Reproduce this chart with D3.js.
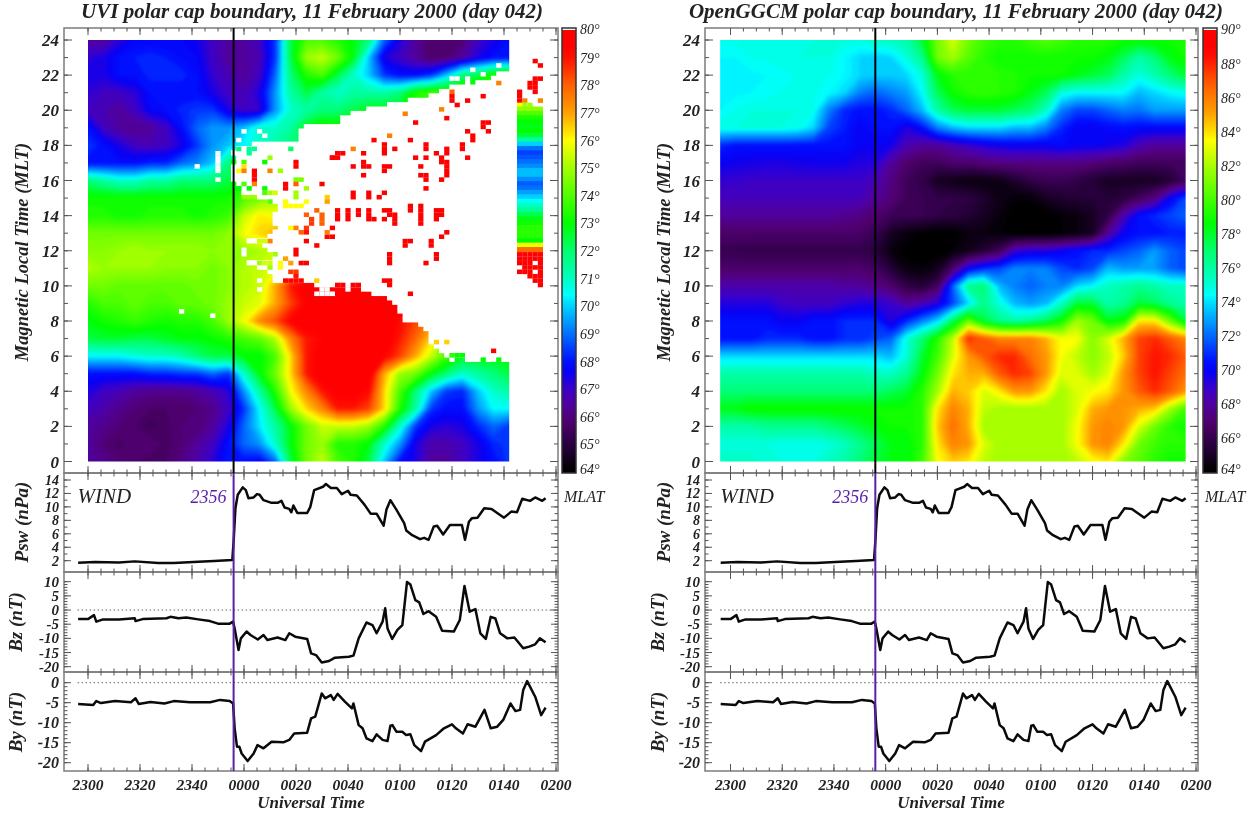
<!DOCTYPE html>
<html><head><meta charset="utf-8">
<script src="https://cdn.jsdelivr.net/npm/d3@7"></script>
<style>html,body{margin:0;padding:0;background:#fff}svg{display:block;filter:blur(0.45px)}
text{font-family:"Liberation Serif",serif;font-style:italic;fill:#222}</style></head><body>
<svg id="c" width="1256" height="814"></svg>
<script>
// ---- data ----
const mltRows = [24,23,22,21,20,19,18,17,16,15,14,13,12,11,10,9,8,7,6,5,4,3,2,1,0];
// UVI latitude field, minutes after 2300 every 6 min (0..162), top row = 24 MLT
const uviGrid = [
[66.5,66.5,67.3,67.8,67.8,67.8,67.8,67.6,67,66.5,66.5,67,68.5,72.5,74,74,73.5,73,72,69,67.5,66.5,65.8,65.8,66,67,67.5,68],
[67.3,67.5,68,68.2,68.4,68.2,68,67.8,67,66.5,66.5,66.8,68.5,72.5,75,75.5,74.5,73,70,67.5,67,66.5,65.8,66,66.5,67.5,68,68],
[67.5,67.5,68,68,68.3,68.3,68.3,68,67.2,66.8,66.5,67,69,72,73.5,74,72.5,71,70,68.5,68,68,68.5,70,72,72.5,73.5,74],
[67.3,67,67,67.3,68,68,68,68,67.5,67,66.8,67.5,69.5,71.5,72.5,71.5,71,71.5,71.5,71.5,72,73.5,74,74,74,74,74,74],
[67,66.8,66.5,67,67.8,68,68.3,68.5,68.5,67.5,67,67.2,69.5,71,71.5,72,72,72.5,73,73,73,73,73,73,73,73,73,73],
[68,67,66.5,66.3,66.5,67,68,69,69.5,69.5,70,71,71,71.5,73,73.5,73.5,73.5,73.5,73.5,73.5,73.5,73.5,73.5,73.5,73.5,73.5,73.5],
[68.5,68,67.5,67,66.8,67,67.5,68.5,69.5,70,70.5,71,71.5,72,72,72,72,72,72,72,72,72,72,72,72,72,72,72],
[68,68,68,68,68.3,68.3,69,69.3,70,72,72.5,72.5,72.5,72.5,72.5,72.5,72.5,72.5,72.5,72.5,72.5,72.5,72.5,72.5,72.5,72.5,72.5,72.5],
[72,71.5,71,71,71.5,71.5,72,72,72,72.5,73,73,73.5,73.5,73.5,73.5,73.5,73.5,73.5,73.5,73.5,73.5,73.5,73.5,73.5,73.5,73.5,73.5],
[73.3,73.3,73.3,73.3,73.3,73.3,73.3,73.3,73.3,73.3,74,74.5,75,75,75,75,75,75,75,75,75,75,75,75,75,75,75,75],
[73.5,73.5,73.3,73.3,73.5,73.5,73.5,73.3,73.5,73.8,75.5,76.3,76,76.5,76.5,76.5,76.5,76.5,76.5,76.5,76.5,76.5,76.5,76.5,76.5,76.5,76.5,76.5],
[74.5,74.5,74.5,74.5,74.5,74.5,74.5,74.5,74.5,74.8,76,76.5,77,77.5,77.5,77.5,77.5,77.5,77.5,77.5,77.5,77.5,77.5,77.5,77.5,77.5,77.5,77.5],
[74.8,74.8,75,75.2,75,75,75,75,74.8,74.8,75,75.2,75.5,76,76,76,76,76,76,76,76,76,76,76,76,76,76,76],
[75.3,75,75,75,75,74.8,74.8,74.8,74.5,74.8,75.3,75.5,75.8,76,76,76,76,76,76,76,76,76,76,76,76,76,76,76],
[74.5,74.5,74.3,74.3,74.3,74.3,74.3,74.5,74.5,74.8,75.3,75.5,77,79,80,80,80,80,80,80,80,80,80,80,80,80,80,80],
[73.5,74,74,74.3,74,74,74.3,74.3,74.5,75,75.5,75.8,77,78.5,79.5,80,80,80,80,80,80,80,80,80,80,80,80,80],
[73,73.3,73.5,73.8,73.5,73.3,73.5,73.5,74,75,76,77.5,78.3,79.5,80,80,80,80,80,80,79.3,78.5,77.5,77.5,77.5,77.5,77.5,77.5],
[72.5,72.7,72.7,72.5,72.5,72.8,73,73,73.2,73.5,74,74.3,75.3,77.5,79,79.5,80,80,80,80,79,78,76.5,75,75,75,75,75],
[70.5,70.5,70.5,70.8,71,71,71.3,72,72.5,72.5,73,73,74,76.5,79,80,80,80,80,79.5,78.5,77,75.5,74,73,73,73,73],
[68,68,68,68,68.3,68.3,68.5,68.5,69,68.5,71,73,74.5,76.5,79,80,80,80,80,77,75,74.5,73,72,71,71.5,72,72.5],
[67.5,67,66.8,66.5,66.3,66.3,66.3,66.5,66.8,67.3,69.5,71.5,73.5,76,77.5,79,79.8,79.8,79.3,76.5,74,72,70,68.5,68.3,70,71,71.5],
[67,66.7,66.3,66,65.8,65.8,65.8,66,66.3,67,68.5,70.5,72.5,75,76.5,77.5,79,79,78.5,76.5,73.5,71.5,68.5,68,68,69.5,70.5,70.5],
[66.5,66.3,66,65.8,65.5,65.7,66,66,66.5,67.5,69,70.3,71.5,73,74.5,75.5,75.5,75.5,75,73.5,71,68.5,67.5,67.3,67.5,68.3,69,68.5],
[66.5,66,65.7,66,66,65.7,66,66.5,67,68,69,69.5,71,73,74.5,75,73.5,73.5,73,71,69.5,67.5,66.7,66.7,67,67.5,68.3,68.5],
[66.5,66.3,66,65.8,65.7,65.8,66.2,66.7,67.3,68.2,68,67.8,69,72.5,74.5,75.5,74,73.5,72.5,70,68,67.5,66.5,66.5,67,67.5,68,68.5]];
// OpenGGCM latitude field, minutes after 2300 every 6 min (-4..176), top row = 24 MLT
const ggcmGrid = [
[74.8,74.8,74.8,74.8,74.8,74.8,75,75,75,75,75.5,75.5,76,78,81,83,81,80,79.5,79.5,80,80.5,80,79.5,79.5,79.5,79,79,79,79,79],
[74.5,74.5,74.8,74.8,75,75,75,75,74.5,74,73.8,74,75,76.5,81,82,80.5,79.5,79,79,79,79,79,79,79,78.5,77.5,76,77,78.5,79],
[74.4,74.3,74.4,74.5,74.6,74.8,74.8,74.8,74.5,74,73.8,73.8,74,75,78.5,79.5,79.5,79.5,79.5,79.3,79,79,79,78.5,78,77.5,76,75,75.8,77,78],
[74.4,74.4,74.5,74.6,74.8,74.8,74.8,74.5,74,72.5,72,72.5,73,74.5,77.5,79,79.5,79.8,79.5,79.3,78.5,77.5,75,74.5,74.5,74.5,74.5,73.5,74,74.5,74.8],
[74.5,74.8,75,75,75,75,74.8,72.5,71,70.5,70.5,71,72,73.5,76,77.5,78,78,78,77.5,77,75.5,72.5,71.5,71.5,72,72.5,72.3,73,73,73],
[75,75,75,75,75,74.8,74,71.5,70.8,70,70.5,70.5,69.5,70.5,72.5,73.5,74,74,74,73.5,73.5,72.5,71,70,70,70.3,70.5,70.3,70.3,70.3,70.3],
[71,70.5,70.5,70.5,70.5,70.5,70.5,70.5,70.5,70,70,69.8,68.5,68,68,68.5,69,69.5,69.8,70,70,70,70.3,70,70,69.8,69.5,68.5,68,68,68],
[70,69.8,69.7,69.6,69.6,69.7,69.8,69.8,69.8,69.5,69.5,68,67,66.5,66.5,67,67,67.3,67.5,67.5,67.5,67.5,67.5,67.5,67.3,67,66.8,66.5,66.5,66.5,66.5],
[69.2,69.1,69,69,69,69,69,69,69,69,68.5,67.5,66.5,66,65,64.7,64.5,64.5,64.7,65.3,66,66.3,66.3,66,65.5,65,65,65,65,65.5,66.5],
[68.7,68.7,68.7,68.7,68.7,68.7,68.7,68.7,68.7,68.7,68,67.3,66.5,66.3,66,66,65.8,65.3,64.7,64.3,64.3,65,65.3,65.5,65.5,65.5,65.8,66.5,67.5,70,71.5],
[68,68,68,68,68,68,68,68,67.8,67.5,67,66.5,66.3,66.3,66,65.8,65.5,65,64.5,64,64,64,64.3,64.5,65,66,68.5,70.5,71,71.5,72],
[66.9,66.9,66.9,66.9,66.9,66.9,66.9,66.9,66.9,66.8,66.3,65,64.5,64.2,64,64,64.5,64.5,64.3,64,64,64,64.2,64.5,65,68,70,70.5,70.5,70.8,70.8],
[66.2,66.2,66.1,66.1,66.1,66.1,66.1,66.1,66.1,66.1,65.7,64.5,64,64,64,64.3,64.8,65.5,66.5,69,69.5,69.5,70,70.5,71,71,71.5,72,73,72,71.5],
[66.9,66.9,66.9,66.9,66.9,66.9,66.9,66.9,66.9,67,66.6,65.5,64.5,64.3,64.8,67,70,71,71.5,72.5,72.5,72.5,71.5,71,71.5,73.5,73,73,73,72,71.5],
[68.3,68.3,68.3,68.3,68.3,68.3,68.3,68.3,68.1,68,67.6,67,66,65.5,66.5,72,76.5,77,73.5,72.5,72,72.5,72.5,74,74.5,75.5,76,76.5,76,75.5,75.5],
[69.5,69.5,69.5,69.5,69,68.8,68.8,68.8,69.2,69.5,69.5,69,68,68.5,69.5,71.5,74,76.5,75,73.5,73,73.5,75.5,78,78,76,76.5,78,77.5,76.5,76],
[70.5,70.5,70.5,70.5,70,70,70.5,70.5,71,71,71,69.5,71,72.5,74,77.5,81,78,76.5,76,76.5,77.5,79,82,81,78.5,79,84,84,81,78],
[70.5,70.5,70.5,71,71,71,70.5,70.5,71,71,71.5,72,75,77,79.5,82.5,88,87,86,86,86,85,83.5,83.5,81.5,83,85,87.5,88,87,86],
[74,74,74,74,74,74,74,74,74,74,74,73.5,75,78,80,83,85.5,87,88,88,86.5,85.5,83.5,82.5,81.5,82.5,84.5,87.5,88.5,88,87],
[76,76,76,76,76,76,76,76,76,76,75.5,75.5,76.5,78.5,81,84,85,85,87,88,87.5,85.5,83,83,82,83,85.5,87.5,88.5,87.5,86.5],
[77,77,77,77,77,77,77,77,77,77,77,77.5,78,79.5,82,85,84.5,83,84,85.5,85.5,84,82,83,83.5,84,85.5,87,88,87,85.5],
[78.5,78.5,79,79,79,79,79,79,79,79,79,79,79,79.5,84,86,85,82.5,82,82,82,82,82,83,85,85.5,85.5,85,84.5,82,80],
[76,76,76,76.5,76.5,76.5,76.5,77,77.5,78,78.5,79,79,79.5,84.5,86.5,85,82,82,82,82,82,82,83.5,85.5,86,85.5,83,81,79.5,79],
[75,75,75,75,74.8,74.8,74.8,75,75.5,76.5,77.5,78.5,78.5,79.5,84,86,85.5,83,82,82,82,82,82,83.5,85.5,86,84,81,80,79.5,79.5],
[75.5,75.5,75.5,75,75,75,75,75.5,76,77,78,78.5,78.5,80,83.5,84.5,84,82.5,82,82,82,82,82,82.5,83.5,84,81.5,80.5,79.5,79,79]];
// no-data rows of the UVI map: quarter-hour row, first 2-min column without data
const gapRow = [88,87,86,85,84,83,82,81,80,79,78,77,76,75,74,73,72,71,70,69,68,67,66,65,64,63,62,61,60,59,58,57,56,55,54,53,52,51,50,49,48,47,46,45,44,43,42,41,40,39,38,37,36,35,34,33,32,31,30,29,28,27,26,25,24,23];
const gapCol = [79,78,75,70,68,66,62,58,54,51,49,49,42,41,41,41,32,29,28,29,29,28,28,28,28,29,30,30,33,35,37,37,36,36,36,37,36,35,31,34,35,36,36,31,33,35,36,36,44,53,55,58,59,60,60,61,61,64,65,66,66,66,67,68,69,73];
// isolated no-data cells inside the map: [column,row]
const gapCells = [[79,90],[74,89],[76,88],[70,87],[71,87],[73,87],[73,86],[29,73],[30,75],[33,75],[34,74],[25,70],[25,69],[25,68],[25,67],[25,66],[21,67],[25,64],[18,34],[24,33],[30,48],[30,47],[33,41],[33,39],[44,38],[47,38],[45,39],[46,39],[45,38],[46,38],[50,39],[70,23]];
// isolated valid cells over the gap: [column,row,latitude]
const redCells = [[70,83],[70,82],[71,81],[73,82],[76,83],[69,78],[63,77],[76,77],[77,77],[76,76],[77,75],[73,75],[74,74],[74,73],[72,72],[72,71],[73,69],[55,73],[62,73],[57,72],[57,71],[57,70],[59,71],[65,72],[65,71],[63,69],[65,69],[67,70],[68,69],[69,71],[69,70],[68,68],[69,68],[69,67],[69,66],[69,65],[68,64],[64,67],[64,65],[65,65],[65,64],[65,62],[53,70],[48,70],[49,70],[47,69],[48,69],[53,68],[54,67],[53,67],[51,67],[53,65],[57,67],[58,67],[57,66],[40,68],[40,67],[47,69],[45,63],[38,63],[38,62],[32,66],[32,65],[32,64],[51,61],[51,60],[54,61],[54,60],[57,61],[56,60],[48,57],[48,56],[48,55],[50,57],[50,56],[50,55],[52,57],[52,56],[54,57],[54,56],[54,55],[55,55],[57,57],[58,57],[57,55],[58,56],[59,56],[59,55],[59,54],[62,58],[62,57],[64,58],[64,57],[64,56],[64,55],[64,54],[67,57],[68,57],[67,56],[68,56],[67,55],[69,52],[68,51],[66,50],[66,49],[61,50],[62,50],[61,49],[58,47],[58,46],[58,45],[67,47],[67,46],[65,45],[57,41],[58,41],[58,40],[62,38],[78,25],[47,53],[47,51],[46,51],[42,50],[44,49],[40,48],[40,47],[41,45],[42,45],[48,40],[49,40],[51,40],[52,40],[38,41],[39,41],[40,41],[41,41],
[86,91],[87,90],[86,87],[87,87],[85,86],[86,86],[85,85],[86,85],[86,84],[83,83],[83,82]];
const mixedCells = [[70,84,78],[68,80,77.5],[61,79,77.5],[58,74,77.5],[51,71,77.5],[46,60,76.5],[46,52,77.5],[67,27,76.5],[69,27,76.5],[79,86,77.5],[39,71,72],[29,71,72],[31,71,71.5],[32,71,71.5],[31,70,71.5],[28,68,73],[30,68,74],[34,68,73],[35,69,75],[30,67,76.3],[29,66,76],[30,66,77.5],[35,66,77.5],[37,66,75],[32,63,77.5],[40,64,74.5],[41,64,74.5],[40,63,78],[42,62,75],[40,61,75],[40,60,75],[42,59,76],[46,59,77],[28,63,73],[30,63,74],[28,62,73],[29,62,73],[31,62,73],[34,62,73],[38,59,76],[38,58,76],[39,58,76],[40,58,76],[41,58,76],[34,61,74],[35,61,75],[36,61,75.5],[30,60,75],[31,60,75],[32,60,75],[35,59,74],[42,56,78],[43,55,78.5],[43,54,78.5],[42,53,78.5],[41,52,78],[42,52,79],[45,56,78],[45,55,78],[45,54,78],[44,57,78],[39,53,76],[40,53,77.5],[35,50,77.5],[33,50,75.5],[34,50,75.5],[36,47,75],[38,46,77],[33,45,75],[34,45,75.5],[35,45,75.5],[37,45,76],[39,45,77],[37,44,76],[35,44,75],[39,43,78.5],[40,43,78.5],[40,42,79],[44,41,76.5],[70,24,73.5],[71,24,73],[72,24,73],[76,23,73],[79,23,73],[83,84,80],[83,81,76],[83,80,76],[84,82,77.5],[87,82,77.5],[84,81,75],[85,81,75]];
// short run of cells near 0146-0156 UT (columns 83..87), by quarter-hour row
const stripRow = [80,79,78,77,76,75,74,73,72,71,70,69,68,67,66,65,64,63,62,61,60,59,58,57,56,55,54,53,52,51,50,49,48];
const stripLat = [74.8,74,73.3,73,72.8,73,72.5,71.5,70,69,68.5,68.7,69,69.3,69.8,69.8,69.3,68.8,69,69.5,70,70.5,71,71.5,72.3,72.8,73.2,73.5,73.5,73.5,73,75.8,77.8];
const stripRed = [[83,47],[84,47],[85,47],[86,47],[87,47],[83,46],[84,46],[85,46],[86,46],[87,46],[83,45],[84,45],[85,45],[87,45],[84,44],[85,44],[86,44],[87,44],[83,43],[84,43],[85,43],[87,43],[85,42],[86,42],[87,42],[86,41],[87,41],[87,40]];
// WIND solar wind series: minutes after 2300 and value
const tPsw=[-3.8,2.7,11.9,18,27,33,42.4,48.5,55.5,56,56.7,57.6,59.5,60.7,61.7,63.7,65,66,67.5,70.6,72.9,74.4,75.6,77.4,78.2,79,80.5,84.3,85.5,87,90.4,91.5,93.4,95.7,97.6,100,101,103.4,106.4,108.7,111,113.7,114.8,116.3,118.6,121.6,122.4,124.7,127.7,129.3,131,133,134.3,136.6,139.2,143.8,145,146.5,147.6,149.8,152.4,155.2,160,162.8,165,167,170,172,174.7,176];
const psw=[1.7,1.8,1.75,1.9,1.65,1.65,1.85,1.95,2.1,4.8,9.8,11.8,12.9,12.5,11.3,11.4,11.9,11.8,11,10.6,10.6,10.9,9.9,9.7,9.2,10.2,9.1,9.1,10,12.5,13,13.4,12.8,12.8,11.9,12.4,11.8,11.7,10.3,9,9,7.2,9.6,11,9.6,7.6,6.5,5.8,5.2,5.4,5.1,7.1,7.2,5.9,7.3,7.3,5.1,7.8,8.3,8.4,9.8,9.7,8.4,9.3,9.2,11.2,10.9,11.4,10.9,11.3];
const tBz=[-3.8,0,2.3,3.2,5.8,11.9,18,18.3,21,30.2,31.7,34.8,37.8,42.4,46.9,50,54.5,55.8,56.4,57.9,58.8,61,62.5,65.3,67.5,69,72.9,75.9,77.4,79.7,84.3,85.8,87.7,89.9,92.7,95,100.3,102.1,104.1,107.1,109.4,111,113.3,114.3,115.2,117,119,120.9,122.7,124,125.9,127.4,129,131,133.9,136.2,140.7,143,144.8,146.8,149,150.9,153,154.9,156.7,158.5,161.3,164,167.4,169.7,172,173.8,176];
const bz=[-3.2,-3.2,-1.8,-4.1,-3.3,-3.3,-2.9,-3.9,-3.2,-2.9,-2.4,-2.9,-2.6,-3.3,-3.9,-4.8,-4.8,-4.1,-6.5,-14.1,-10,-7.6,-8.8,-10.4,-8.8,-10.6,-9.7,-10.6,-8.2,-9.4,-10.2,-15.3,-15.9,-18.5,-18,-16.8,-16.5,-16.1,-10,-4.4,-5.3,-8.2,-4.1,0.6,-6.5,-10.2,-7,-5.3,9.9,9,3.5,2.7,-1.4,-0.4,-2.4,-7.3,-7.6,-3.5,8.5,-0.6,0.35,-8.2,-10.2,-2.4,-3,-8.2,-10,-9.7,-13.5,-12.9,-12.1,-10,-11.4];
const tBy=[-3.8,2,3.2,5,10.4,16.5,18.3,19.5,24,29.4,33,39.3,47,50.8,54.5,55.8,56.4,57.3,58.2,59.1,61.4,63.7,65.2,67.5,70.6,75.1,77.4,79.3,84.3,85.8,87.4,89.9,91.2,93.4,94.5,96,98.8,101.5,102.1,104.1,105.6,107.1,109.4,111,113.3,115.2,116.3,117.1,118.6,120.9,122.4,124,125.5,128.1,129.6,133.9,136.9,140,141.5,144.2,146,149,152.5,154.9,157.4,159.7,162.5,164.4,166.2,167.4,168.9,172,174.3,176];
const by=[-5.3,-5.6,-4.6,-5.1,-4.6,-4.9,-3.9,-5.3,-4.8,-5.2,-4.6,-4.9,-4.9,-4.3,-4.6,-5.2,-11.4,-16,-16,-17.7,-19.6,-17.7,-15.6,-16.4,-14.75,-14.9,-14.3,-12.7,-12.5,-8.9,-8.5,-2.7,-3.9,-3.1,-4.3,-2.8,-4.75,-6.4,-5.2,-10.6,-11.4,-13.9,-14.6,-12.9,-14.3,-14.6,-10.75,-10.6,-12.25,-12.25,-13.1,-12.9,-15.6,-17.1,-14.75,-13.1,-11.4,-10.4,-11.4,-12.7,-10.4,-11,-6.8,-11.4,-11,-9.3,-5.2,-7.1,-6.8,-1.8,0.4,-3.5,-8.1,-6.25];
// tick labels
const timeTicks=[0,20,40,60,80,100,120,140,160,180];
const mltTicks=[0,2,4,6,8,10,12,14,16,18,20,22,24];
const pswTicks=[2,4,6,8,10,12,14], bzTicks=[-20,-15,-10,-5,0,5,10], byTicks=[-20,-15,-10,-5,0];
const uviBar=d3.range(64,81,1), ggcmBar=d3.range(64,91,2);

// ---- colour table ----
const cFrac=[0,.0625,.115,.154,.1875,.225,.25,.3125,.375,.40,.4375,.5,.5625,.625,.6875,.75,.8125,.875,.9375,.965,1];
const cCol=["#000000","#2a0040","#500070","#5000a0","#3c00c8","#0800f5","#0010ff","#0070ff","#00d0ff","#00ffff","#00ffc0","#00ff70","#00ff00","#50ff00","#a0ff00","#ffff00","#ffa000","#ff6000","#ff1000","#ff0000","#ff0000"];
const frac=d3.scaleLinear().domain(cFrac).range(cCol).interpolate(d3.interpolateRgb).clamp(true);

const svg=d3.select("#c");
const defs=svg.append("defs");
const grey="#7c7c7c";
const panelTops={heatTop:28,heatBot:473,pswBot:572,bzBot:672,byBot:771};

function label(g,x,y,t,size,o={}){
  return g.append("text").attr("x",x).attr("y",y).attr("text-anchor",o.anchor||"middle")
    .attr("font-size",size).attr("font-weight",o.weight||"bold").attr("fill",o.fill||"#222")
    .attr("transform",o.rot?`rotate(-90 ${x} ${y})`:null).style("fill",o.fill||"#222").text(t);
}
function ticks(g,scale,vals,orient,pos,len,w){
  const sel=g.append("g").attr("stroke","#555").attr("stroke-width",w||1);
  vals.forEach(v=>{const p=scale(v);
    if(orient==="h") sel.append("line").attr("x1",pos).attr("x2",pos+len).attr("y1",p).attr("y2",p);
    else sel.append("line").attr("y1",pos).attr("y2",pos+len).attr("x1",p).attr("x2",p);});
}
function fmtTime(t){const m=(23*60+t)%1440;return d3.format("02")(Math.floor(m/60))+d3.format("02")(m%60);}

function panel(o){
  const g=svg.append("g");
  const P=panelTops;
  const x=d3.scaleLinear().domain([0,180]).range([o.x0,o.x1]);
  const yH=d3.scaleLinear().domain([0,24]).range([461.5,40]);
  const cid="clip"+o.id;
  const hx0=x(o.heatStart),hx1=x(o.heatEnd);
  defs.append("clipPath").attr("id",cid).append("rect").attr("x",hx0).attr("y",yH(24)).attr("width",hx1-hx0).attr("height",yH(0)-yH(24));
  const colour=v=>frac((v-o.lo)/(o.hi-o.lo));
  const nr=o.grid.length,nc=o.grid[0].length;
  const flat=[];o.grid.forEach(r=>{for(let i=0;i<nc;i++)flat.push(r[i]);});
  const cont=d3.contours().size([nc,nr]).thresholds(d3.range(o.lo,o.hi+.01,o.step))(flat);
  const gx=c=>x(o.heatStart+(c-.5)*6), gy=r=>yH(mltRows[0]-(r-.5));
  const path=d3.geoPath(d3.geoTransform({point(a,b){this.stream.point(gx(a),gy(b));}}));
  const hg=g.append("g").attr("clip-path",`url(#${cid})`);
  const soft=hg.append("g").style("filter","blur(1.6px)");
  soft.append("rect").attr("x",hx0-12).attr("y",yH(24)-12).attr("width",hx1-hx0+24).attr("height",yH(0)-yH(24)+24).attr("fill",colour(o.lo));
  soft.append("g").selectAll("path").data(cont).join("path").attr("d",path).attr("fill",d=>colour(d.value));
  if(o.extra) o.extra(g,x,yH,colour,hg);
  // frames
  [[P.heatTop,P.heatBot],[P.heatBot,P.pswBot],[P.pswBot,P.bzBot],[P.bzBot,P.byBot]].forEach(([a,b])=>{
    g.append("rect").attr("x",o.fL).attr("y",a).attr("width",o.fR-o.fL).attr("height",b-a).attr("fill","none").attr("stroke",grey).attr("stroke-width",1.5);
  });
  const major=timeTicks, minor=d3.range(0,181,5);
  [[P.heatTop,1],[P.heatBot,-1],[P.heatBot,1],[P.pswBot,-1],[P.pswBot,1],[P.bzBot,-1],[P.bzBot,1],[P.byBot,-1]].forEach(([yy,s])=>{
    ticks(g,x,major,"v",yy,7*s);ticks(g,x,minor,"v",yy,3.5*s);
  });
  // heat y axis
  const hmin=d3.range(0,25,1);
  ticks(g,yH,mltTicks,"h",o.fL,8);ticks(g,yH,hmin,"h",o.fL,4);
  ticks(g,yH,mltTicks,"h",o.fR,-8);ticks(g,yH,hmin,"h",o.fR,-4);
  mltTicks.forEach(v=>label(g,o.fL-5,yH(v)+6,v,17,{anchor:"end"}));
  label(g,o.lblX,252,"Magnetic Local Time (MLT)",18.5,{rot:true});
  label(g,o.titleX,18,o.title,21);
  // line panels
  const yP=d3.scaleLinear().domain([2,14]).range([560.7,480]);
  const yZ=d3.scaleLinear().domain([-20,10]).range([666.7,581.7]);
  const yY=d3.scaleLinear().domain([-20,0]).range([762.7,682.7]);
  const line=(sc)=>d3.line().x(d=>x(d[0])).y(d=>sc(d[1]));
  [[yP,tPsw,psw,pswTicks,d3.range(2,15,1),"Psw (nPa)",14,o.lblX,522],[yZ,tBz,bz,bzTicks,d3.range(-20,11,1),"Bz (nT)",15,o.lblX2,622],[yY,tBy,by,byTicks,d3.range(-20,1,1),"By (nT)",16,o.lblX2,722]].forEach(([sc,tt,vv,tv,mv,nm,fs,lx,ly])=>{
    ticks(g,sc,tv,"h",o.fL,7);ticks(g,sc,mv,"h",o.fL,3.5);
    ticks(g,sc,tv,"h",o.fR,-7);ticks(g,sc,mv,"h",o.fR,-3.5);
    tv.forEach(v=>label(g,o.fL-5,sc(v)+5,v,fs,{anchor:"end"}));
    label(g,lx,ly,nm,19,{rot:true});
    if(sc!==yP) g.append("line").attr("x1",x(-4)).attr("x2",o.fR).attr("y1",sc(0)).attr("y2",sc(0)).attr("stroke","#666").attr("stroke-dasharray","1.5 2.5");
    g.append("path").attr("d",line(sc)(tt.map((t,i)=>[t,vv[i]]))).attr("fill","none").attr("stroke","#0a0a0a").attr("stroke-width",2.5).attr("stroke-linejoin","round");
  });
  // onset lines
  g.append("line").attr("x1",x(56)).attr("x2",x(56)).attr("y1",P.heatTop).attr("y2",P.heatBot).attr("stroke","#000").attr("stroke-width",2);
  g.append("line").attr("x1",x(56)).attr("x2",x(56)).attr("y1",P.heatBot).attr("y2",P.byBot).attr("stroke","#5a1fa8").attr("stroke-width",2);
  label(g,x(-4),503,"WIND",21,{anchor:"start",weight:"normal"});
  label(g,x(56)-7,503,"2356",18,{anchor:"end",weight:"normal",fill:"#5a1fa8"});
  label(g,o.mlatX,502,"MLAT",16,{anchor:"start",weight:"normal"});
  timeTicks.forEach(t=>label(g,x(t),790,fmtTime(t),15.5));
  label(g,o.titleX0,808,"Universal Time",17);
  // colour bar
  const yB=d3.scaleLinear().domain([o.lo,o.hi]).range([472,30]);
  const bv=d3.range(o.lo,o.hi,(o.hi-o.lo)/220);
  g.append("g").selectAll("rect").data(bv).join("rect").attr("x",o.barX).attr("width",o.barW).attr("y",d=>yB(d+(o.hi-o.lo)/220)).attr("height",3).attr("fill",colour);
  g.append("rect").attr("x",o.barX).attr("y",28).attr("width",o.barW).attr("height",445).attr("fill","none").attr("stroke","#333").attr("stroke-width",1.5);
  o.bar.forEach(v=>label(g,o.barX+o.barW+4,yB(v)+(v===o.hi?4:v===o.lo?2:5),v+"°",14,{anchor:"start",weight:"normal"}));
}

// UVI cells helpers
function uviExtra(g,x,yH,colour,hg){
  const rT=r=>yH((r+.72)*.25), rB=r=>yH((r-.32)*.25);
  const gT=r=>yH((r+.85)*.25), gB=r=>yH((r-.32)*.25);
  const t1=162;
  const w=g.append("g");
  w.selectAll("rect.a").data(gapRow.map((r,i)=>[gapCol[i],r])).join("rect").attr("class","a")
    .attr("x",d=>x(d[0]*2-1)).attr("y",d=>gT(d[1])).attr("width",d=>x(t1)-x(d[0]*2-1)+1).attr("height",d=>gB(d[1])-gT(d[1])).attr("fill","#fff");
  const cell=(arr,fill,cls)=>w.selectAll("rect."+cls).data(arr).join("rect").attr("class",cls)
    .attr("x",d=>x(d[0]*2-1)).attr("y",d=>rT(d[1])).attr("width",x(2)-x(0)).attr("height",d=>rB(d[1])-rT(d[1])).attr("fill",fill);
  cell(gapCells,"#fff","gap");
  cell(redCells,colour(80),"red");
  cell(mixedCells,d=>colour(d[2]),"mix");
  cell(stripRed,colour(80),"sr");
  w.selectAll("rect.st").data(stripRow.map((r,i)=>[r,stripLat[i]])).join("rect").attr("class","st")
    .attr("x",x(83*2-1)).attr("width",x(10)-x(0)).attr("y",d=>gT(d[0])).attr("height",d=>gB(d[0])-gT(d[0])).attr("fill",d=>colour(d[1]));
}

panel({id:"L",grid:uviGrid,lo:64,hi:80,step:.2,heatStart:0,heatEnd:162,x0:88,x1:556,fL:64,fR:558,mlatX:564,
  title:"UVI polar cap boundary, 11 February 2000 (day 042)",titleX:312,titleX0:311,lblX:28,lblX2:22,barX:562,barW:14,bar:uviBar,extra:uviExtra});
panel({id:"R",grid:ggcmGrid,lo:64,hi:90,step:.25,heatStart:-4,heatEnd:176,x0:730.5,x1:1196,fL:705,fR:1198,mlatX:1205,
  title:"OpenGGCM polar cap boundary, 11 February 2000 (day 042)",titleX:956,titleX0:951,lblX:670,lblX2:664,barX:1203,barW:14,bar:ggcmBar});
</script></body></html>
